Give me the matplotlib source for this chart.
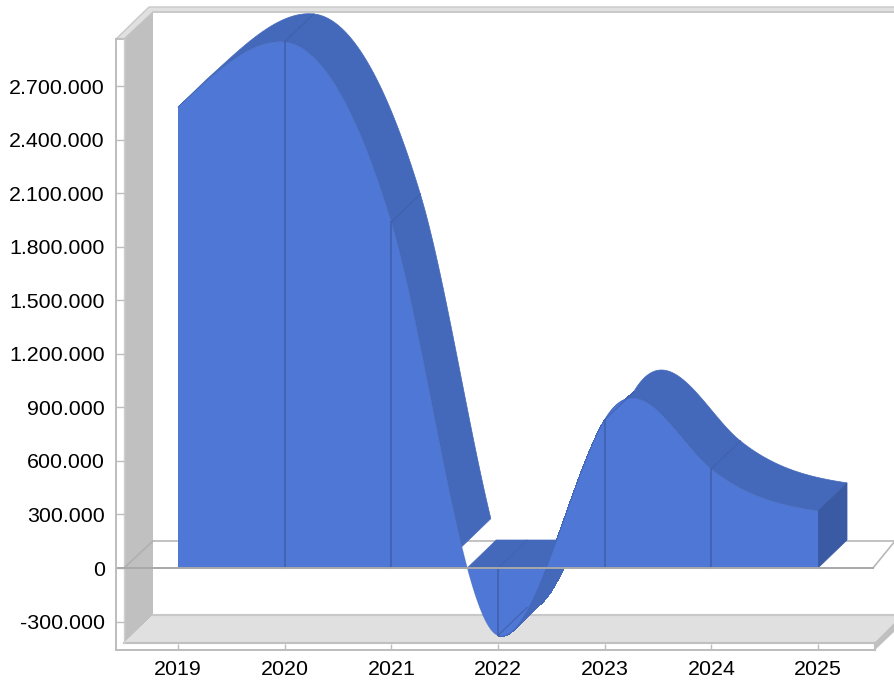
import numpy as np
import matplotlib
matplotlib.use("Agg")
import matplotlib.pyplot as plt
from matplotlib.patches import Polygon

years = [2019, 2020, 2021, 2022, 2023, 2024, 2025]
values = [2582000, 2947000, 1938000, -378000, 830000, 555000, 320000]
# slope of the smoothed line at each year, per year
slopes = [538000, -60000, -1972000, -200000, 1016000, -478000, -90000]
y_ticks = [-300000, 0, 300000, 600000, 900000, 1200000, 1500000, 1800000, 2100000, 2400000, 2700000]
strip_cut = 118000  # the top strip stops here on the way down to 2022

FRONT = "#4f78d6"
STRIP = "#4468ba"
SIDE = "#3a5aa4"
EDGE = "#3f5fa8"
GREY = "#bdbdbd"

# pixel scale of the picture
PX_X = 106.67
PX_Y = 53.55 / 300000
DX = 29 / PX_X
DY = 28 / PX_Y


def smooth(xs, ys, ms, n=60):
    # hermite pieces through the points, same look as the chart's smoothed area
    out_x, out_y = [], []
    for i in range(len(xs) - 1):
        t = np.linspace(0, 1, n)
        h = xs[i + 1] - xs[i]
        v = ((2*t**3 - 3*t**2 + 1) * ys[i] + (t**3 - 2*t**2 + t) * h * ms[i]
             + (-2*t**3 + 3*t**2) * ys[i + 1] + (t**3 - t**2) * h * ms[i + 1])
        out_x.append(xs[i] + t * h)
        out_y.append(v)
    return out_x, out_y


def sweep(a, sx, sy):
    # small quads under the strip so the curl around the minimum stays filled
    for j in range(len(sx) - 1):
        a.fill([sx[j], sx[j + 1], sx[j + 1] + DX, sx[j] + DX],
               [sy[j], sy[j + 1], sy[j + 1] + DY, sy[j] + DY],
               fc=STRIP, ec=STRIP, lw=0.4, antialiased=False)


fig = plt.figure(figsize=(8.95, 6.84), dpi=100)
plt.rcParams["font.family"] = ["Liberation Sans", "DejaVu Sans"]

# frame of the 3d box, in pixels
bg = fig.add_axes([0, 0, 1, 1], zorder=0)
bg.set_xlim(0, 895)
bg.set_ylim(684, 0)
bg.axis("off")
bg.add_patch(Polygon([(116, 39), (149, 7), (895, 7), (895, 12), (153, 12), (124, 39)], fc="#e0e0e0", ec="#c8c8c8", lw=1))
bg.add_patch(Polygon([(124, 39), (153, 12), (153, 615), (124, 643)], fc="#c0c0c0", ec="none"))
bg.add_patch(Polygon([(124, 643), (153, 615), (895, 615), (895, 622), (875, 642)], fc="#e0e0e0", ec="none"))
bg.add_patch(Polygon([(875, 642), (895, 622), (895, 631), (875, 650)], fc="#c0c0c0", ec="none"))
bg.plot([153, 895], [12, 12], color="#c8c8c8", lw=1.2)
bg.plot([153, 895], [615, 615], color="#c8c8c8", lw=1.5)
bg.plot([124, 875], [643, 643], color="#c0c0c0", lw=1.5)
bg.plot([875, 875], [643, 650], color="#c0c0c0", lw=1.5)
bg.plot([116, 124], [39, 39], color="#c0c0c0", lw=1.5)
bg.plot([124, 124], [39, 643], color="#d0d0d0", lw=1)
bg.plot([124, 153], [568, 541], color="#b0b0b0", lw=1.2)
bg.plot([153, 895], [541, 541], color="#b8b8b8", lw=1.2)
bg.plot([873, 895], [568, 541], color="#b8b8b8", lw=1.2)

ax = fig.add_axes([116 / 895, 34 / 684, (895 - 116) / 895, (650 - 8) / 684], zorder=1)
ax.patch.set_visible(False)
ax.set_xlim(2019 + (116 - 178) / PX_X, 2019 + (895 - 178) / PX_X)
ax.set_ylim((568 - 650) / PX_Y, (568 - 8) / PX_Y)

seg_x, seg_y = smooth(years, values, slopes)

# top strip, one piece per year
for i in range(len(seg_x)):
    sx, sy = seg_x[i], seg_y[i]
    if i == 2:
        keep = np.argmax(sy < strip_cut)
        sx, sy = sx[:keep], sy[:keep]
    if i == 3:
        sweep(ax, sx, sy)
    ax.fill(np.r_[sx, sx[::-1] + DX], np.r_[sy, sy[::-1] + DY], fc=STRIP, ec=STRIP, lw=0.5)

# band where the area passes through the zero plane
xs_all = np.concatenate(seg_x)
ys_all = np.concatenate(seg_y)
cross = np.where(np.diff(np.sign(ys_all)) != 0)[0]
x0, x1 = xs_all[cross[0]], xs_all[cross[-1]]
ax.fill([x0, x0 + DX, x1 + DX, x1], [0, DY, DY, 0], fc=STRIP, ec=STRIP, lw=0.5)

# end of the area at the last year
ax.fill([years[-1], years[-1] + DX, years[-1] + DX, years[-1]],
        [0, DY, values[-1] + DY, values[-1]], fc=SIDE, ec=SIDE, lw=0.5)

# front face
ax.fill(np.r_[years[0], xs_all, years[-1]], np.r_[0, ys_all, 0], fc=FRONT, ec="none")
ax.plot(xs_all, ys_all, color=EDGE, lw=0.6, alpha=0.4)

for yr, v in zip(years[1:-1], values[1:-1]):
    ax.plot([yr, yr], [0, v], color=EDGE, lw=1.1)
    ax.plot([yr, yr + DX], [v, v + DY], color=EDGE, lw=0.9, alpha=0.8)
ax.plot([years[3], years[3] + DX], [0, DY], color=EDGE, lw=0.7, alpha=0.5)

ax.axhline(0, xmin=0, xmax=(873 - 116) / (895 - 116), color="#a8a8a8", lw=1.4)

for s in ["top", "right"]:
    ax.spines[s].set_visible(False)
ax.spines["left"].set_color(GREY)
ax.spines["bottom"].set_color(GREY)
ax.spines["left"].set_linewidth(1.4)
ax.spines["bottom"].set_linewidth(1.4)
ax.spines["left"].set_bounds((568 - 650) / PX_Y, (568 - 39) / PX_Y)
ax.spines["bottom"].set_bounds(2019 + (116 - 178) / PX_X, 2019 + (875 - 178) / PX_X)

ax.set_xticks(years)
ax.set_xticklabels([str(y) for y in years])
ax.set_yticks(y_ticks)
ax.set_yticklabels([f"{v:,}".replace(",", ".") for v in y_ticks])
ax.tick_params(axis="y", direction="in", length=5.8, width=1, color=GREY, labelsize=15.4, pad=8)
ax.tick_params(axis="x", direction="in", length=4.5, width=1, color=GREY, labelsize=15.4, pad=7)

fig.savefig("out.png", dpi=100)
